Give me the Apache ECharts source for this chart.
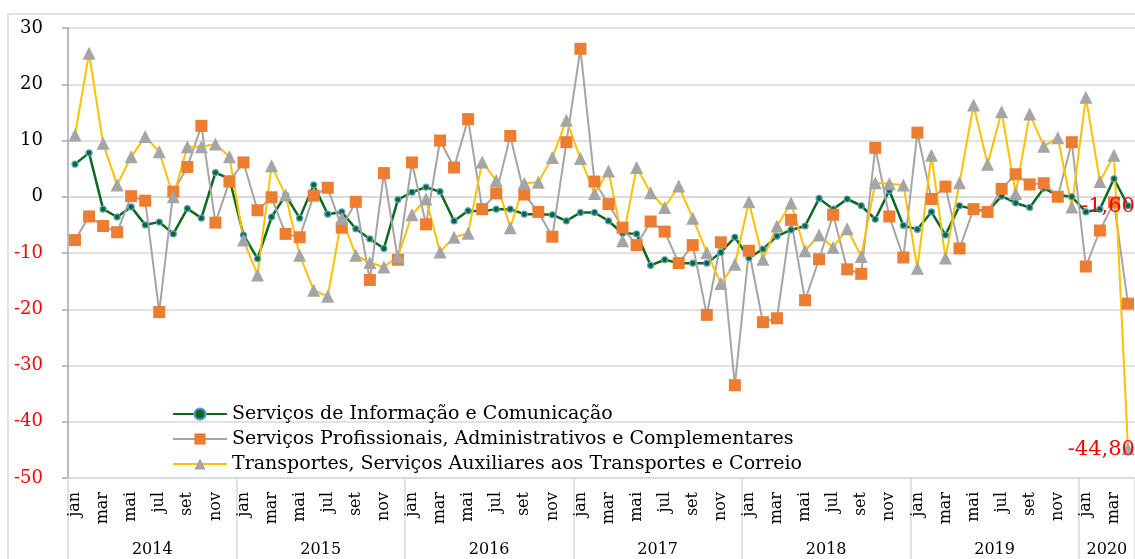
<!DOCTYPE html>
<html>
<head>
<meta charset="utf-8">
<script src="https://cdn.jsdelivr.net/npm/echarts@6/dist/echarts.min.js"></script>
<style>
  html, body { margin: 0; padding: 0; background: #fff; }
  #chart { width: 1135px; height: 559px; }
</style>
</head>
<body>
<div id="chart"></div>
<script>
// month / year labels
var monthNames = ['jan', 'fev', 'mar', 'abr', 'mai', 'jun', 'jul', 'ago', 'set', 'out', 'nov', 'dez'];
var years = ['2014', '2015', '2016', '2017', '2018', '2019', '2020'];
var yearTicks = [0, 12, 24, 36, 48, 60, 72, 76];
var monthsIn2020 = 4;

// variação (%) - jan/2014 .. abr/2020
var informacao = [
  5.8, 7.8, -2.2, -3.6, -1.8, -5.0, -4.5, -6.6, -2.1, -3.8, 4.3, 3.2,
  -6.8, -11.0, -3.6, 0.3, -3.8, 2.1, -3.1, -2.7, -5.7, -7.5, -9.2, -0.5,
  0.8, 1.7, 0.9, -4.3, -2.5, -2.6, -2.2, -2.2, -3.1, -3.1, -3.2, -4.3,
  -2.8, -2.8, -4.3, -6.5, -6.6, -12.2, -11.2, -11.8, -11.8, -11.8, -9.9, -7.2,
  -10.9, -9.3, -7.0, -5.9, -5.2, -0.3, -2.2, -0.4, -1.6, -4.0, 1.1, -5.1,
  -5.8, -2.7, -6.8, -1.6, -2.2, -2.6, 0.1, -1.1, -1.9, 1.5, 0.3, 0.0,
  -2.7, -2.2, 3.2, -1.6
];
var profissionais = [
  -7.7, -3.5, -5.2, -6.3, 0.1, -0.7, -20.5, 0.9, 5.3, 12.6, -4.6, 2.7,
  6.1, -2.4, -0.1, -6.6, -7.2, 0.2, 1.6, -5.5, -0.9, -14.8, 4.2, -11.2,
  6.1, -4.9, 10.0, 5.2, 13.8, -2.2, 0.6, 10.8, 0.4, -2.7, -7.1, 9.7,
  26.3, 2.7, -1.3, -5.5, -8.6, -4.4, -6.2, -11.8, -8.6, -21.0, -8.1, -33.5,
  -9.6, -22.3, -21.6, -4.1, -18.4, -11.1, -3.2, -12.9, -13.7, 8.7, -3.5, -10.8,
  11.4, -0.4, 1.8, -9.2, -2.2, -2.7, 1.4, 4.0, 2.2, 2.4, 0.0, 9.7,
  -12.4, -6.0, -1.0, -19.0
];
var transportes = [
  11.0, 25.5, 9.5, 2.1, 7.1, 10.7, 8.0, 0.0, 8.9, 8.9, 9.4, 7.1,
  -7.7, -13.9, 5.5, 0.3, -10.4, -16.6, -17.7, -3.8, -10.4, -11.7, -12.5, -10.6,
  -3.2, -0.4, -9.8, -7.2, -6.5, 6.2, 2.9, -5.5, 2.4, 2.6, 7.0, 13.6,
  6.8, 0.6, 4.6, -7.8, 5.2, 0.7, -1.9, 1.9, -3.8, -9.9, -15.4, -12.0,
  -0.9, -11.1, -5.2, -1.1, -9.6, -6.8, -9.0, -5.7, -10.6, 2.5, 2.3, 2.1,
  -12.7, 7.4, -10.9, 2.5, 16.3, 5.8, 15.1, 0.6, 14.7, 9.0, 10.5, -1.8,
  17.7, 2.7, 7.4, -44.8
];

var serifFont = 'DejaVu Serif';
var gridColor = '#d9d9d9';

var categories = [];
for (var y = 0; y < years.length; y++) {
  var n = (y === years.length - 1) ? monthsIn2020 : 12;
  for (var m = 0; m < n; m++) categories.push(monthNames[m]);
}

// year label sits in the middle of its span
var yearCenters = [];
for (var k = 0; k < years.length; k++) {
  yearCenters.push((yearTicks[k] + yearTicks[k + 1]) / 2);
}

function fmt(v) {
  return v.toFixed(2).replace('.', ',');
}

// only the last point gets a red data label
function lastLabelled(values) {
  return values.map(function (v, i) {
    if (i < values.length - 1) return v;
    return {
      value: v,
      label: {
        show: true, position: 'inside', align: 'right', offset: [7, 1],
        color: '#ff0000', fontSize: 21, fontFamily: serifFont,
        formatter: function (p) { return fmt(p.value); }
      }
    };
  });
}

var chart = echarts.init(document.getElementById('chart'));

var option = {
  animation: false,
  backgroundColor: '#fff',
  grid: { left: 68, right: 0, top: 28, bottom: 81 },
  graphic: [{
    type: 'rect', silent: true, z: -10,
    shape: { x: 8, y: 14, width: 1200, height: 600 },
    style: { fill: null, stroke: gridColor, lineWidth: 1.5 }
  }],
  legend: {
    orient: 'vertical', left: 172, top: 404, padding: 0,
    itemWidth: 54, itemHeight: 14, itemGap: 5,
    textStyle: { fontFamily: serifFont, fontSize: 19, color: '#000', lineHeight: 20 },
    data: [
      'Serviços de Informação e Comunicação',
      'Serviços Profissionais, Administrativos e Complementares',
      'Transportes, Serviços Auxiliares aos Transportes e Correio'
    ]
  },
  xAxis: [{
    // month labels at the bottom
    type: 'category', data: categories, position: 'bottom',
    axisLine: { onZero: false, lineStyle: { color: gridColor, width: 1.5 } },
    axisTick: { interval: 0, length: 49, lineStyle: { color: gridColor, width: 1.5 } },
    axisLabel: {
      interval: 1, rotate: 90, margin: 14,
      fontFamily: serifFont, fontSize: 16, color: '#000'
    },
    splitLine: { show: false }
  }, {
    // year labels
    type: 'value', min: 0, max: 76, position: 'bottom',
    axisLine: { show: false, onZero: false },
    axisTick: { show: true, customValues: yearTicks, length: 90, lineStyle: { color: gridColor, width: 1.5 } },
    axisLabel: {
      customValues: yearCenters, margin: 64,
      fontFamily: serifFont, fontSize: 16, color: '#000',
      formatter: function (v) {
        var idx = yearCenters.indexOf(v);
        return idx >= 0 ? years[idx] : '';
      }
    },
    splitLine: { show: false }
  }, {
    // axis line crossing at zero
    type: 'category', data: categories,
    axisLine: { onZero: true, lineStyle: { color: gridColor, width: 1.5 } },
    axisTick: { interval: 0, length: 5, lineStyle: { color: gridColor, width: 1.5 } },
    axisLabel: { show: false },
    splitLine: { show: false }
  }],
  yAxis: {
    type: 'value', min: -50, max: 30, interval: 10,
    axisLine: { show: true, onZero: false, lineStyle: { color: '#a6a6a6', width: 1.5 } },
    axisTick: { show: true, length: 6, lineStyle: { color: '#a6a6a6', width: 1.5 } },
    axisLabel: {
      margin: 25, fontFamily: serifFont, fontSize: 18,
      color: function (v) { return Number(v) < 0 ? '#ff0000' : '#000'; }
    },
    splitLine: { lineStyle: { color: gridColor, width: 1.5 } }
  },
  series: [{
    name: 'Serviços de Informação e Comunicação',
    type: 'line', xAxisIndex: 0,
    data: lastLabelled(informacao),
    symbol: 'circle', symbolSize: 6, showAllSymbol: true,
    lineStyle: { color: '#0a6b1e', width: 2.5 },
    itemStyle: { color: '#0a6b1e', borderColor: '#5b9bd5', borderWidth: 1.2 }
  }, {
    name: 'Serviços Profissionais, Administrativos e Complementares',
    type: 'line', xAxisIndex: 0,
    data: profissionais,
    symbol: 'rect', symbolSize: 12, showAllSymbol: true,
    lineStyle: { color: '#a5a5a5', width: 2 },
    itemStyle: { color: '#ed7d31' }
  }, {
    name: 'Transportes, Serviços Auxiliares aos Transportes e Correio',
    type: 'line', xAxisIndex: 0,
    data: lastLabelled(transportes),
    symbol: 'triangle', symbolSize: 13, showAllSymbol: true,
    lineStyle: { color: '#ffc000', width: 2 },
    itemStyle: { color: '#a5a5a5' }
  }]
};

chart.setOption(option);
</script>
</body>
</html>
